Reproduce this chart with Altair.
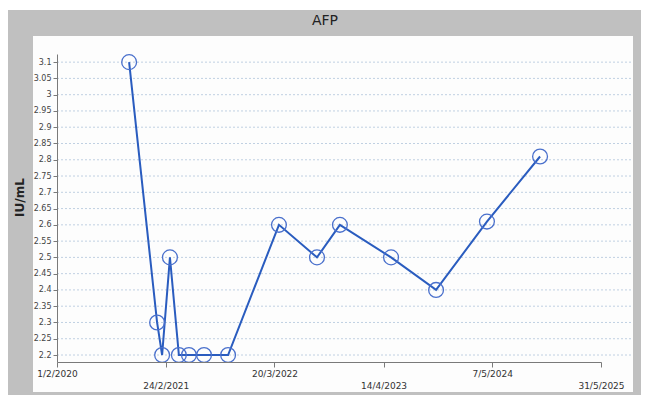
import altair as alt
import pandas as pd

# Data
dates = ["2020-10-16", "2021-01-24", "2021-02-11", "2021-03-11", "2021-04-12",
         "2021-05-18", "2021-07-11", "2021-10-05", "2022-04-05", "2022-08-19",
         "2022-11-09", "2023-05-11", "2023-10-19", "2024-04-18", "2024-10-25"]
values = [3.1, 2.3, 2.2, 2.5, 2.2, 2.2, 2.2, 2.2, 2.6, 2.5, 2.6, 2.5, 2.4, 2.61, 2.81]

y_ticks = [2.2, 2.25, 2.3, 2.35, 2.4, 2.45, 2.5, 2.55, 2.6, 2.65, 2.7, 2.75,
           2.8, 2.85, 2.9, 2.95, 3.0, 3.05, 3.1]
x_ticks = [(2020, 2, 1), (2021, 2, 24), (2022, 3, 20), (2023, 4, 14), (2024, 5, 7), (2025, 5, 31)]

df = pd.DataFrame({"date": [d + "T00:00:00" for d in dates], "value": values})
grid_df = pd.DataFrame({"value": y_ticks})

W, H = 544, 308
PL, PT = 57, 54

x_scale = alt.Scale(domain=[alt.DateTime(year=2020, month=2, date=1),
                            alt.DateTime(year=2025, month=5, date=31)], nice=False)
y_scale = alt.Scale(domain=[2.1785, 3.125], nice=False, zero=False)

x_axis = alt.Axis(
    title=None, grid=False, zindex=2,
    values=[alt.DateTime(year=y, month=m, date=d) for (y, m, d) in x_ticks],
    format="%-d/%-m/%Y", labelFont="DejaVu Sans", labelFontSize=9, labelColor="#333333",
    labelPadding={"condition": {"test": "year(datum.value) % 2 == 1", "value": 14}, "value": 2},
    domainColor="#7a7a7a", tickColor="#7a7a7a", tickSize=5, labelFlush=False, labelOverlap=False,
)
y_axis = alt.Axis(
    title="IU/mL", values=y_ticks, format="~g", grid=False, zindex=2,
    labelFont="DejaVu Sans", labelFontSize=8, labelColor="#444444", labelPadding=2,
    tickSize=4, tickColor="#7a7a7a", domainColor="#7a7a7a",
    titleFont="DejaVu Sans", titleFontSize=12, titleFontWeight="bold", titleColor="#222222",
    titleX=-31, titleY=143, titleAngle=-90, titleBaseline="bottom", titleAlign="center",
    labelOverlap=False,
)

frame = pd.DataFrame({"a": [0]})
gray = alt.Chart(frame).mark_rect(color="#c0c0c0").encode(
    x=alt.value(8 - PL), x2=alt.value(641 - PL), y=alt.value(10 - PT), y2=alt.value(395 - PT))
white = alt.Chart(frame).mark_rect(color="#fdfdfd").encode(
    x=alt.value(33 - PL), x2=alt.value(633 - PL), y=alt.value(36 - PT), y2=alt.value(392 - PT))
title = alt.Chart(frame).mark_text(
    text="AFP", fontSize=14, font="DejaVu Sans", color="#222222", align="center", baseline="middle"
).encode(x=alt.value(325 - PL), y=alt.value(21 - PT))

grid = alt.Chart(grid_df).mark_rule(color="#c0d0e2", strokeDash=[2, 2], strokeWidth=1).encode(
    y=alt.Y("value:Q", scale=y_scale, axis=y_axis),
    x=alt.value(0), x2=alt.value(631 - PL),
)

base = alt.Chart(df).encode(
    x=alt.X("date:T", scale=x_scale, axis=x_axis),
    y=alt.Y("value:Q", scale=y_scale, axis=y_axis),
)
line = base.mark_line(color="#2a5cbf", strokeWidth=2)
pts = base.mark_point(shape="circle", filled=False, size=220, color="#4a70cc", strokeWidth=1.3, opacity=1)

chart = alt.layer(gray, white, title, grid, line, pts).properties(
    width=W, height=H,
    autosize=alt.AutoSizeParams(type="none"),
    padding={"left": PL, "top": PT, "right": 647 - PL - W, "bottom": 395 - PT - H},
).configure_view(stroke=None).configure(background="white")

chart.save("out.html", embed_options={"renderer": "svg", "actions": False})
